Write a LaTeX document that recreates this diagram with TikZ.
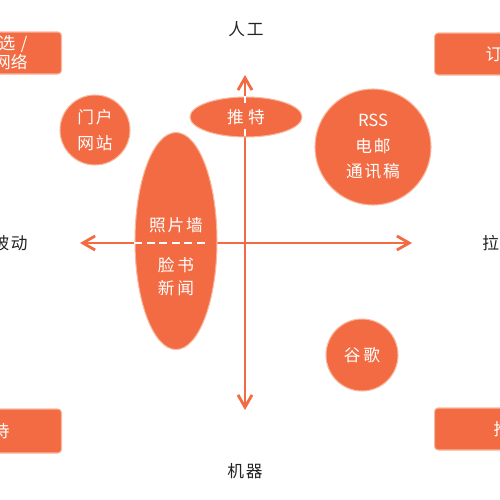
\documentclass[tikz,border=0pt]{standalone}
\usepackage{fontspec}
\setmainfont{Noto Sans CJK SC}
\usetikzlibrary{arrows.meta,positioning,shapes.geometric,calc}
\definecolor{tangerine}{HTML}{F26B43}
\definecolor{peach}{HTML}{F8B89E}
\definecolor{ink}{HTML}{222222}
\tikzset{
  blob/.style={
    circle, draw=peach, line width=0.6pt, fill=tangerine,
    text=white, font=\fontsize{9.5}{14.5}\selectfont,
    align=center, inner sep=0pt
  },
  oval/.style={
    ellipse, draw=peach, line width=0.6pt, fill=tangerine,
    text=white, font=\fontsize{9.5}{14.5}\selectfont,
    align=center, inner sep=0pt
  },
  blobtext/.style={text=white, font=\fontsize{9.5}{13}\selectfont,
    align=center, inner sep=0pt},
  cornerbox/.style={
    rectangle, rounded corners=2pt, draw=peach, line width=0.6pt,
    fill=tangerine, text=white, font=\fontsize{9.5}{10.8}\selectfont,
    minimum height=8.4mm, text width=18mm, inner ysep=0pt
  },
  axisline/.style={
    {Straight Barb[length=7pt,width=8pt]}-{Straight Barb[length=7pt,width=8pt]},
    draw=tangerine, line width=1.6pt
  },
  innerdash/.style={draw=white, line width=1.6pt, dash pattern=on 4.5pt off 2.6pt},
  axislabel/.style={text=ink, font=\fontsize{9.5}{11}\selectfont, inner sep=0pt},
}

\begin{document}
\begin{tikzpicture}[x=0.2mm, y=-0.2mm]
  \useasboundingbox (0,0) rectangle (500,500);
  \clip (0,0) rectangle (500,500);

  % Labels
  \node[axislabel] (lab_top) at (246,29) {人\hspace{1pt}工};
  \node[axislabel] (lab_bot) at (245,471) {机\hspace{1pt}器};
  \node[axislabel, anchor=east] (lab_left) at (28,243) {被\hspace{1pt}动};
  \node[axislabel, anchor=west] (lab_right) at (482,243) {拉\hspace{4pt}取};

  % Axes
  \coordinate (h_west) at (80,243);
  \coordinate (h_east) at (412,243);
  \coordinate (v_north) at (245,75);
  \coordinate (v_south) at (245,410);
  \draw[axisline] (h_west) -- (h_east);
  \draw[axisline] (v_north) -- (v_south);

  % Sources
  \node[blob, minimum size=14mm] (portal) at (95,130) {门\hspace{1pt}户\\网\hspace{1pt}站};
  \node[blob, minimum size=23.2mm] (rss) at (373,147) {RSS\\电\hspace{1pt}邮\\通\hspace{1pt}讯\hspace{1pt}稿};
  \node[blob, minimum size=14.4mm] (google) at (362,355) {谷\hspace{1.5pt}歌};
  \node[oval, minimum width=22.4mm, minimum height=8mm] (twitter) at (246,117) {推\hspace{2.5pt}特};
  \node[oval, minimum width=16.4mm, minimum height=43.4mm] (photo) at (176,241) {};
  \node[blobtext] (photo_top) at (176,225) {照\hspace{1pt}片\hspace{1pt}墙};
  \node[blobtext] (photo_bot) at (176,277) {脸\hspace{1.5pt}书\\新\hspace{1.5pt}闻};
  \draw[innerdash] (photo.west |- h_west) -- ($(photo.east |- h_west)+(-9,0)$);
  \draw[innerdash] (twitter.north -| v_north) -- ($(twitter.north -| v_north)+(0,7)$);
  \draw[innerdash] ($(twitter.south -| v_north)+(0,-9)$) -- (twitter.south -| v_north);

  % Corners
  \node[cornerbox, anchor=east, align=right, inner xsep=6.8mm] (pick_box) at (62,53) {人工筛选 /\\社交网络};
  \node[cornerbox, anchor=west, align=left, inner xsep=10.2mm] (feed_box) at (434,54) {订阅};
  \node[cornerbox, anchor=east, align=right, inner xsep=10.4mm, minimum height=8.8mm] (wait_box) at (62,431) {等待};
  \node[cornerbox, anchor=west, align=left, inner xsep=11.8mm] (push_box) at (434,429) {推送};
\end{tikzpicture}
\end{document}
